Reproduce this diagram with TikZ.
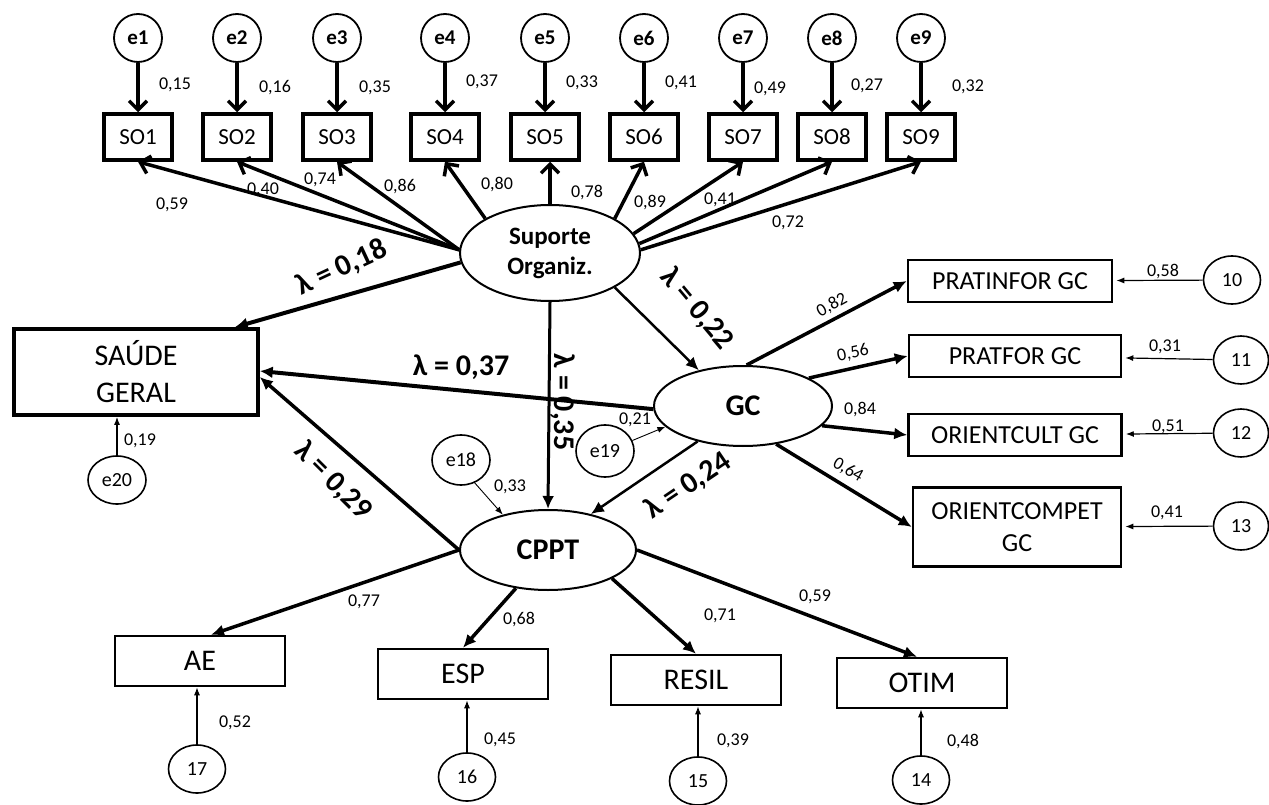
\documentclass[tikz,border=0pt]{standalone}
\usepackage{fontspec}
\setmainfont{Carlito}
\usetikzlibrary{arrows.meta,calc,shapes.geometric}
\newcommand\fz[2]{\fontsize{#1}{#2}\selectfont}
\tikzset{
 errc/.style={circle,draw,line width=1.8pt,minimum size=48pt,inner sep=0pt,font=\fz{21}{25}\bfseries},
 numc/.style={ellipse,draw,line width=1.6pt,minimum width=57pt,minimum height=48pt,inner sep=0pt,font=\fz{20}{24}},
 sobox/.style={rectangle,draw,line width=3.5pt,minimum width=68pt,minimum height=46pt,inner sep=0pt,font=\fz{23}{28}},
 latent/.style={ellipse,draw,line width=2pt,inner sep=0pt,font=\fz{30}{34}\bfseries,align=center},
 gcbox/.style={rectangle,draw,line width=2.5pt,minimum height=42pt,inner sep=0pt,font=\fz{26}{32},align=center},
 botbox/.style={rectangle,draw,line width=2.5pt,minimum width=170pt,minimum height=50pt,inner sep=0pt,font=\fz{30}{34}},
 val/.style={font=\fz{18}{21},inner sep=1pt},
 lam/.style={font=\fz{30}{34}\bfseries,inner sep=1pt},
 barb/.style={line width=3.5pt,-{Straight Barb[length=9pt,width=18pt]}},
 heavy/.style={line width=3.5pt,-{Latex[length=13pt,width=12pt]}},
 lamarr/.style={-{Latex[length=13pt,width=12pt]}},
 thinarr/.style={line width=1.2pt,-{Latex[length=8pt,width=6pt]}},
}
\begin{document}
\begin{tikzpicture}[x=1pt,y=-1pt]
\useasboundingbox (0,0) rectangle (1269,805);
% top row: error circles and SO boxes
\foreach \i/\x in {1/138,2/237,3/337,4/445,5/545,6/644,7/743,8/832,9/921}{
  \node[errc] (e\i) at (\x,38) {e\i};
  \node[sobox] (so\i) at (\x,137) {SO\i};
  \draw[barb] (e\i) -- (so\i);
}
\node[val] (v1) at (175,85) {0,15};
\node[val] (v2) at (275,88) {0,16};
\node[val] (v3) at (375,88) {0,35};
\node[val] (v4) at (482,82) {0,37};
\node[val] (v5) at (582,83) {0,33};
\node[val] (v6) at (681,83) {0,41};
\node[val] (v7) at (770,89) {0,49};
\node[val] (v8) at (867,86) {0,27};
\node[val] (v9) at (968,87) {0,32};

% latent variables
\node[latent,minimum width=180pt,minimum height=96pt,font=\fz{25}{30}\bfseries] (sup) at (550,253) {Suporte\\Organiz.};
\node[latent,minimum width=178pt,minimum height=80pt] (gc) at (743,406) {GC};
\node[latent,minimum width=176pt,minimum height=80pt] (cppt) at (548,550) {CPPT};
\node[rectangle,draw,line width=3.5pt,minimum width=244pt,minimum height=86pt,inner sep=0pt,font=\fz{30}{37},align=center] (saude) at (136,372) {SAÚDE\\GERAL};

% SO loadings
\draw[barb] (sup.178) -- (so1.south);
\draw[barb] (sup.178) -- (so2.south);
\draw[barb] (sup.178) -- (so3.south);
\draw[barb] (sup.152) -- (so4.south);
\draw[barb] (sup.north) -- (sup.north |- so5.south);
\draw[barb] (sup.28) -- (so6.south);
\draw[barb] (sup.13) -- (so7.south);
\draw[barb] (sup.6) -- (so8.south);
\draw[barb] (sup.2) -- (so9.south);
\node[val] (w1) at (172,205) {0,59};
\node[val] (w2) at (263,190) {0,40};
\node[val] (w3) at (320,180) {0,74};
\node[val] (w4) at (400,187) {0,86};
\node[val] (w5) at (497,185) {0,80};
\node[val] (w6) at (587,193) {0,78};
\node[val] (w7) at (650,203) {0,89};
\node[val] (w8) at (720,200) {0,41};
\node[val] (w9) at (788,223) {0,72};

% structural paths
\draw[lamarr,line width=4pt] (sup.186) -- ($(saude.north east)+(-25,0)$);
\draw[lamarr,line width=4pt] (gc.182) -- ($(saude.east)+(0,-1)$);
\draw[lamarr,line width=3.5pt] (cppt.west) -- ($(saude.east)+(0,5)$);
\draw[lamarr,line width=3pt] (sup.south) -- (cppt.north);
\draw[lamarr,line width=2.5pt] (sup.-28) -- (gc.141);
\draw[lamarr,line width=2.5pt] (gc.218) -- (cppt.40);
\node[lam,rotate=25] (l18) at (342,268) {λ = 0,18};
\node[lam] (l37) at (461,367) {λ = 0,37};
\node[lam,rotate=-45] (l29) at (333,481) {λ = 0,29};
\node[lam,rotate=-90] (l35) at (563,402) {λ = 0,35};
\node[lam,rotate=-50] (l22) at (697,309) {λ = 0,22};
\node[lam,rotate=34] (l24) at (688,486) {λ = 0,24};

% saude error
\node[numc,minimum width=58pt] (e20) at (117,480) {e20};
\draw[thinarr,line width=1.5pt] (e20.north) -- (e20.north |- saude.south);
\node[val] (v20) at (140,441) {0,19};

% GC indicators
\node[gcbox,minimum width=204pt] (pi) at (1010,281) {PRATINFOR GC};
\node[gcbox,minimum width=212pt] (pf) at (1015,356) {PRATFOR GC};
\node[gcbox,minimum width=213pt] (oc) at (1015,435) {ORIENTCULT GC};
\node[gcbox,minimum width=208pt,minimum height=79pt] (ocp) at (1017,527) {ORIENTCOMPET\\GC};
\draw[heavy] (gc.85) -- (pi.west);
\draw[heavy] (gc.23) -- (pf.west);
\draw[heavy] (gc.-14) -- (oc.west);
\draw[heavy] (gc.-49) -- (ocp.west);
\node[val,rotate=29] (g1) at (832,305) {0,82};
\node[val,rotate=12] (g2) at (853,353) {0,56};
\node[val] (g3) at (860,410) {0,84};
\node[val,rotate=-30] (g4) at (848,470) {0,64};
\node[numc] (c10) at (1232,280) {10};
\node[numc,minimum width=55pt] (c11) at (1241,360) {11};
\node[numc,minimum width=55pt] (c12) at (1241,433) {12};
\node[numc,minimum width=55pt] (c13) at (1241,526) {13};
\draw[thinarr,shorten >=3pt] (c10) -- (pi);
\draw[thinarr,shorten >=3pt] (c11) -- (pf);
\draw[thinarr,shorten >=3pt] (c12) -- (oc);
\draw[thinarr,shorten >=3pt] (c13) -- (ocp);
\node[val] (r1) at (1163,272) {0,58};
\node[val] (r2) at (1165,347) {0,31};
\node[val] (r3) at (1168,427) {0,51};
\node[val] (r4) at (1167,513) {0,41};

% disturbances of GC and CPPT
\node[numc,minimum width=58pt,minimum height=50pt] (e18) at (461,460) {e18};
\node[numc,minimum width=58pt,minimum height=52pt] (e19) at (605,451) {e19};
\draw[thinarr,line width=0.9pt] (e18.-59) -- (cppt.142);
\draw[thinarr,line width=0.9pt] (e19.21) -- (gc.195);
\node[val] (v18) at (510,487) {0,33};
\node[val] (v19) at (635,420) {0,21};

% CPPT indicators
\node[botbox] (ae) at (200,661) {AE};
\node[botbox] (esp) at (463,674) {ESP};
\node[botbox] (resil) at (696,680) {RESIL};
\node[botbox] (otim) at (922,683) {OTIM};
\draw[heavy] (cppt.west) -- ($(ae.north)+(11,0)$);
\draw[heavy] (cppt.230) -- (esp.north);
\draw[heavy] (cppt.-24) -- (resil.north);
\draw[heavy] (cppt.east) -- ($(otim.north)+(-5,0)$);
\node[val] (b1) at (364,602) {0,77};
\node[val] (b2) at (519,619) {0,68};
\node[val] (b3) at (720,616) {0,71};
\node[val] (b4) at (815,597) {0,59};
\node[numc] (c17) at (197,769) {17};
\node[numc] (c16) at (467,777) {16};
\node[numc] (c15) at (698,781) {15};
\node[numc] (c14) at (921,780) {14};
\draw[thinarr] (c17.north) -- (c17.north |- ae.south);
\draw[thinarr] (c16.north) -- (c16.north |- esp.south);
\draw[thinarr] (c15.north) -- (c15.north |- resil.south);
\draw[thinarr] (c14.north) -- (c14.north |- otim.south);
\node[val] (b5) at (235,723) {0,52};
\node[val] (b6) at (500,740) {0,45};
\node[val] (b7) at (733,741) {0,39};
\node[val] (b8) at (963,741) {0,48};
\end{tikzpicture}
\end{document}
